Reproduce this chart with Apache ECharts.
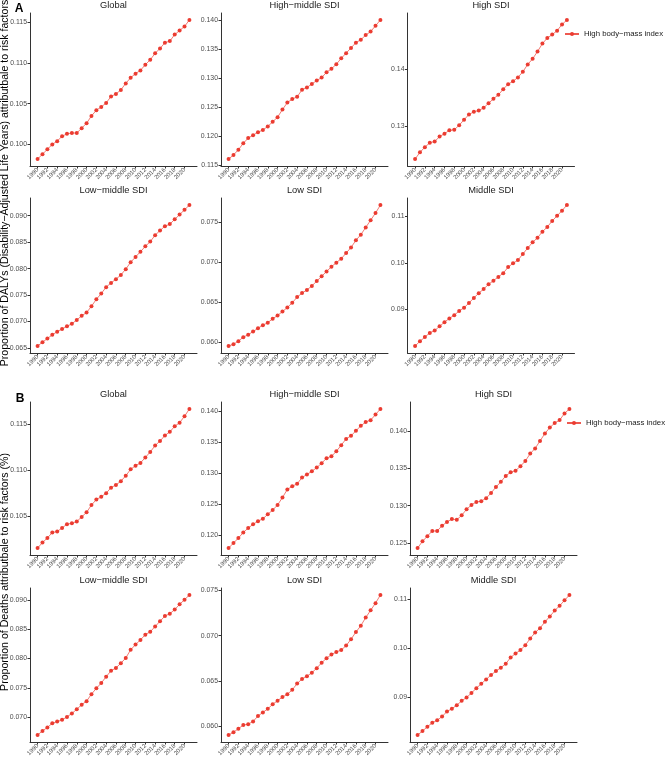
<!DOCTYPE html>
<html>
<head>
<meta charset="utf-8">
<script src="https://cdn.jsdelivr.net/npm/echarts@6/dist/echarts.min.js"></script>
<style>
html, body { margin: 0; padding: 0; background: #fff; }
#chart { width: 667px; height: 758px; }
</style>
</head>
<body>
<div id="chart"></div>
<script>
var years = [1990, 1991, 1992, 1993, 1994, 1995, 1996, 1997, 1998, 1999,
    2000, 2001, 2002, 2003, 2004, 2005, 2006, 2007, 2008, 2009,
    2010, 2011, 2012, 2013, 2014, 2015, 2016, 2017, 2018, 2019,
    2020, 2021];
var yearTicks = [1990, 1992, 1994, 1996, 1998, 2000, 2002, 2004, 2006, 2008,
    2010, 2012, 2014, 2016, 2018, 2020];

var regionNames = ['Global', 'High−middle SDI', 'High SDI', 'Low−middle SDI', 'Low SDI', 'Middle SDI'];
var riskName = 'High body−mass index';

// A: proportion of DALYs
var dalyGlobal = [0.0982, 0.0988, 0.0994, 0.1000, 0.1004, 0.1010, 0.1013, 0.1014, 0.1014, 0.1020,
    0.1026, 0.1035, 0.1042, 0.1046, 0.1051, 0.1059, 0.1062, 0.1067, 0.1075, 0.1082,
    0.1087, 0.1091, 0.1098, 0.1104, 0.1112, 0.1118, 0.1125, 0.1127, 0.1135, 0.1140,
    0.1145, 0.1153];
var dalyHighMiddle = [0.1161, 0.1168, 0.1177, 0.1188, 0.1197, 0.1202, 0.1207, 0.1211, 0.1217, 0.1225,
    0.1233, 0.1246, 0.1258, 0.1264, 0.1268, 0.1280, 0.1284, 0.1290, 0.1296, 0.1301,
    0.1310, 0.1316, 0.1324, 0.1334, 0.1343, 0.1352, 0.1361, 0.1366, 0.1374, 0.1380,
    0.1390, 0.1400];
var dalyHigh = [0.1241, 0.1253, 0.1262, 0.1270, 0.1272, 0.1281, 0.1286, 0.1292, 0.1293, 0.1301,
    0.1311, 0.1320, 0.1325, 0.1327, 0.1332, 0.1340, 0.1348, 0.1355, 0.1365, 0.1374,
    0.1379, 0.1386, 0.1396, 0.1409, 0.1419, 0.1432, 0.1446, 0.1456, 0.1462, 0.1469,
    0.1480, 0.1488];
var dalyLowMiddle = [0.0654, 0.0661, 0.0668, 0.0675, 0.0681, 0.0686, 0.0691, 0.0696, 0.0703, 0.0711,
    0.0717, 0.0729, 0.0742, 0.0753, 0.0765, 0.0773, 0.0780, 0.0788, 0.0799, 0.0812,
    0.0822, 0.0832, 0.0842, 0.0851, 0.0863, 0.0872, 0.0880, 0.0884, 0.0893, 0.0902,
    0.0911, 0.0920];
var dalyLow = [0.0595, 0.0597, 0.0601, 0.0606, 0.0609, 0.0613, 0.0617, 0.0621, 0.0624, 0.0629,
    0.0633, 0.0638, 0.0643, 0.0649, 0.0656, 0.0661, 0.0665, 0.0670, 0.0676, 0.0682,
    0.0688, 0.0694, 0.0699, 0.0704, 0.0711, 0.0718, 0.0727, 0.0734, 0.0743, 0.0752,
    0.0761, 0.0771];
var dalyMiddle = [0.0822, 0.0832, 0.0841, 0.0850, 0.0855, 0.0864, 0.0873, 0.0881, 0.0888, 0.0897,
    0.0904, 0.0914, 0.0925, 0.0935, 0.0944, 0.0954, 0.0962, 0.0970, 0.0978, 0.0991,
    0.0999, 0.1006, 0.1019, 0.1032, 0.1044, 0.1054, 0.1067, 0.1077, 0.1090, 0.1101,
    0.1112, 0.1124];

// B: proportion of deaths
var deathGlobal = [0.1015, 0.1021, 0.1026, 0.1032, 0.1033, 0.1037, 0.1041, 0.1042, 0.1044, 0.1049,
    0.1054, 0.1062, 0.1068, 0.1071, 0.1075, 0.1081, 0.1084, 0.1088, 0.1094, 0.1101,
    0.1105, 0.1108, 0.1114, 0.1120, 0.1127, 0.1132, 0.1138, 0.1142, 0.1148, 0.1152,
    0.1159, 0.1167];
var deathHighMiddle = [0.1180, 0.1188, 0.1196, 0.1205, 0.1212, 0.1218, 0.1223, 0.1227, 0.1234, 0.1241,
    0.1249, 0.1261, 0.1274, 0.1279, 0.1283, 0.1293, 0.1298, 0.1303, 0.1309, 0.1316,
    0.1324, 0.1327, 0.1335, 0.1345, 0.1355, 0.1360, 0.1368, 0.1376, 0.1382, 0.1385,
    0.1394, 0.1403];
var deathHigh = [0.1243, 0.1252, 0.1259, 0.1266, 0.1266, 0.1273, 0.1278, 0.1282, 0.1281, 0.1287,
    0.1295, 0.1301, 0.1305, 0.1306, 0.1310, 0.1317, 0.1325, 0.1332, 0.1340, 0.1345,
    0.1347, 0.1353, 0.1360, 0.1370, 0.1377, 0.1387, 0.1397, 0.1405, 0.1411, 0.1415,
    0.1424, 0.1430];
var deathLowMiddle = [0.0669, 0.0676, 0.0682, 0.0689, 0.0692, 0.0695, 0.0700, 0.0706, 0.0713, 0.0721,
    0.0727, 0.0739, 0.0749, 0.0758, 0.0769, 0.0779, 0.0784, 0.0792, 0.0801, 0.0815,
    0.0824, 0.0832, 0.0841, 0.0846, 0.0855, 0.0864, 0.0873, 0.0877, 0.0884, 0.0893,
    0.0901, 0.0909];
var deathLow = [0.0590, 0.0593, 0.0597, 0.0601, 0.0602, 0.0605, 0.0611, 0.0615, 0.0619, 0.0624,
    0.0628, 0.0632, 0.0635, 0.0640, 0.0647, 0.0652, 0.0655, 0.0659, 0.0664, 0.0670,
    0.0675, 0.0679, 0.0682, 0.0684, 0.0689, 0.0696, 0.0704, 0.0711, 0.0720, 0.0728,
    0.0736, 0.0745];
var deathMiddle = [0.0822, 0.0830, 0.0839, 0.0847, 0.0852, 0.0860, 0.0870, 0.0876, 0.0883, 0.0892,
    0.0899, 0.0908, 0.0918, 0.0927, 0.0936, 0.0945, 0.0953, 0.0960, 0.0968, 0.0981,
    0.0989, 0.0996, 0.1006, 0.1020, 0.1032, 0.1041, 0.1054, 0.1065, 0.1077, 0.1087,
    0.1098, 0.1109];

// y tick labels, per panel
var dalyTicks = [
    ['0.100', '0.105', '0.110', '0.115'],
    ['0.115', '0.120', '0.125', '0.130', '0.135', '0.140'],
    ['0.13', '0.14'],
    ['0.065', '0.070', '0.075', '0.080', '0.085', '0.090'],
    ['0.060', '0.065', '0.070', '0.075'],
    ['0.09', '0.10', '0.11']
];
var deathTicks = [
    ['0.105', '0.110', '0.115'],
    ['0.120', '0.125', '0.130', '0.135', '0.140'],
    ['0.125', '0.130', '0.135', '0.140'],
    ['0.070', '0.075', '0.080', '0.085', '0.090'],
    ['0.060', '0.065', '0.070', '0.075'],
    ['0.09', '0.10', '0.11']
];

var dalyYTitle = 'Proportion of DALYs (Disability−Adjusted Life Years) attributbale to risk factors';
var deathYTitle = 'Proportion of Deaths attributbale to risk factors (%)';

var groups = [
    [dalyGlobal, dalyHighMiddle, dalyHigh, dalyLowMiddle, dalyLow, dalyMiddle],
    [deathGlobal, deathHighMiddle, deathHigh, deathLowMiddle, deathLow, deathMiddle]
];
var groupTicks = [dalyTicks, deathTicks];

var red = '#EB3C31';
var font = 'Liberation Sans, Arial, sans-serif';

// layout (px)
var colLeft = [[30, 221, 407.5], [30, 221, 410]];
var rowTop = [[13, 198], [402, 588]];
var rowHeight = [[153, 155], [153, 154]];
var panelWidth = 167;

function expandMin(v) { return v.min - (v.max - v.min) * 0.05; }
function expandMax(v) { return v.max + (v.max - v.min) * 0.05; }

var grids = [], xAxes = [], yAxes = [], series = [], titles = [];

groups.forEach(function (group, g) {
    group.forEach(function (values, i) {
        var r = Math.floor(i / 3), c = i % 3;
        var idx = grids.length;
        var left = colLeft[g][c], top = rowTop[g][r], h = rowHeight[g][r];
        var ticks = groupTicks[g][i];
        var tickValues = ticks.map(parseFloat);
        var decimals = ticks[0].split('.')[1].length;

        grids.push({left: left, top: top, width: panelWidth, height: h, outerBoundsMode: 'none'});

        xAxes.push({
            gridIndex: idx,
            type: 'value',
            min: expandMin,
            max: expandMax,
            axisLine: {show: true, onZero: false, lineStyle: {color: '#333', width: 1}},
            axisTick: {show: true, customValues: yearTicks, length: 2.5, lineStyle: {color: '#333', width: 1}},
            axisLabel: {
                customValues: yearTicks, rotate: 45, margin: 3,
                fontSize: 6, color: '#4d4d4d', fontFamily: font,
                formatter: function (v) { return String(v); }
            },
            splitLine: {show: false}
        });

        yAxes.push({
            gridIndex: idx,
            type: 'value',
            min: expandMin,
            max: expandMax,
            axisLine: {show: true, lineStyle: {color: '#333', width: 1}},
            axisTick: {show: true, customValues: tickValues, length: 2.5, lineStyle: {color: '#333', width: 1}},
            axisLabel: {
                customValues: tickValues, margin: 3,
                fontSize: 6.9, color: '#4d4d4d', fontFamily: font,
                formatter: function (v) { return v.toFixed(decimals); }
            },
            splitLine: {show: false}
        });

        titles.push({
            text: regionNames[i],
            left: left + panelWidth / 2,
            top: top - 12,
            textAlign: 'center',
            padding: 0,
            textStyle: {fontSize: 9.3, fontWeight: 'normal', color: '#1a1a1a', fontFamily: font}
        });

        series.push({
            name: riskName,
            type: 'line',
            xAxisIndex: idx,
            yAxisIndex: idx,
            data: years.map(function (y, k) { return [y, values[k]]; }),
            symbol: 'circle',
            symbolSize: 4,
            itemStyle: {color: red},
            lineStyle: {color: red, width: 0.8, opacity: 0.85}
        });
    });
});

var legendStyle = {
    data: [riskName],
    orient: 'vertical',
    itemWidth: 14,
    itemHeight: 5,
    padding: 0,
    textStyle: {fontSize: 7.8, color: '#1a1a1a', fontFamily: font}
};

var option = {
    animation: false,
    backgroundColor: '#fff',
    title: titles,
    legend: [
        Object.assign({left: 564, top: 30}, legendStyle),
        Object.assign({left: 566, top: 419}, legendStyle)
    ],
    grid: grids,
    xAxis: xAxes,
    yAxis: yAxes,
    series: series,
    graphic: [
        {type: 'text', x: 19, y: 9, style: {text: 'A', font: 'bold 12px ' + font, fill: '#000', align: 'center', verticalAlign: 'middle'}},
        {type: 'text', x: 20, y: 398.5, style: {text: 'B', font: 'bold 12px ' + font, fill: '#000', align: 'center', verticalAlign: 'middle'}},
        {type: 'text', x: 5, y: 183, rotation: Math.PI / 2, style: {text: dalyYTitle, font: '10.6px ' + font, fill: '#000', align: 'center', verticalAlign: 'middle'}},
        {type: 'text', x: 5, y: 572, rotation: Math.PI / 2, style: {text: deathYTitle, font: '10.6px ' + font, fill: '#000', align: 'center', verticalAlign: 'middle'}}
    ]
};

echarts.init(document.getElementById('chart')).setOption(option);
</script>
</body>
</html>
